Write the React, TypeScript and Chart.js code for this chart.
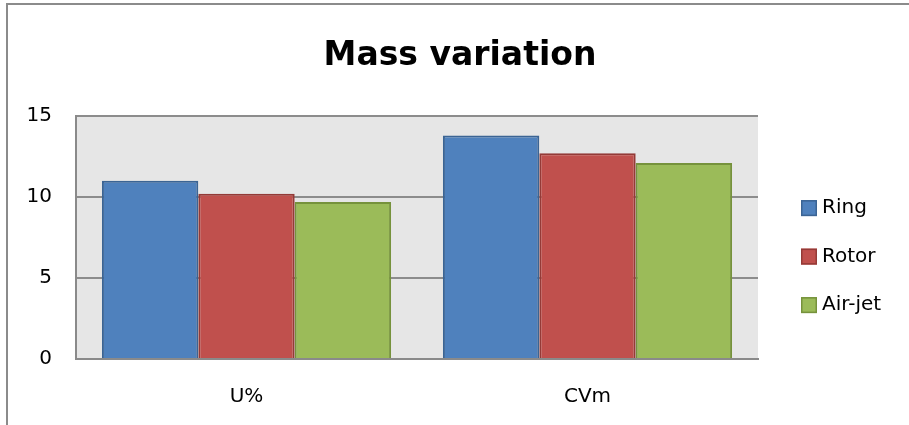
import React, { useEffect, useRef } from 'react';
import { Chart, registerables } from 'chart.js';

Chart.register(...registerables);

const categories = ['U%', 'CVm'];
const seriesNames = ['Ring', 'Rotor', 'Air-jet'];
const ringValues = [11.0, 13.8];
const rotorValues = [10.2, 12.7];
const airJetValues = [9.7, 12.1];
const yTicks = [0, 5, 10, 15];

const FONT = "'DejaVu Sans', sans-serif";
const fills = ['#4F81BD', '#C0504D', '#9BBB59'];
const borders = ['#3B6494', '#943A37', '#76923C'];

const plotBg = {
  id: 'plotBg',
  beforeDraw(chart: any) {
    const { ctx, chartArea: a } = chart;
    ctx.save();
    ctx.fillStyle = '#e6e6e6';
    ctx.fillRect(a.left, a.top, a.right - a.left, a.bottom - a.top);
    ctx.restore();
  },
};

const sideLegend = {
  id: 'sideLegend',
  afterDraw(chart: any) {
    const { ctx, chartArea: a } = chart;
    const x = a.right + 43;
    ctx.save();
    chart.data.datasets.forEach((ds: any, i: number) => {
      const cy = a.top + 92 + i * 48.5;
      ctx.fillStyle = ds.backgroundColor;
      ctx.fillRect(x, cy - 8, 16, 16);
      ctx.strokeStyle = ds.borderColor;
      ctx.lineWidth = 1.5;
      ctx.strokeRect(x + 0.75, cy - 7.25, 14.5, 14.5);
      ctx.fillStyle = '#000';
      ctx.font = `20px ${FONT}`;
      ctx.textBaseline = 'middle';
      ctx.textAlign = 'left';
      ctx.fillText(ds.label, x + 21, cy);
    });
    ctx.restore();
  },
};

export default function App() {
  const ref = useRef<HTMLCanvasElement | null>(null);

  useEffect(() => {
    if (!ref.current) return;
    const values = [ringValues, rotorValues, airJetValues];
    const chart = new Chart(ref.current, {
      type: 'bar',
      data: {
        labels: categories,
        datasets: seriesNames.map((name, i) => ({
          label: name,
          data: values[i],
          backgroundColor: fills[i],
          borderColor: borders[i],
          borderWidth: 2,
          categoryPercentage: 0.848,
          barPercentage: 1,
        })),
      },
      options: {
        responsive: false,
        animation: false,
        devicePixelRatio: 1,
        layout: { padding: { left: 11, right: 0, top: 0, bottom: 0 } },
        plugins: {
          legend: { display: false },
          tooltip: { enabled: false },
          title: {
            display: true,
            text: 'Mass variation',
            color: '#000',
            font: { family: FONT, size: 33, weight: 'bold' },
            padding: { top: 37, bottom: 39.5 },
          },
        },
        scales: {
          x: {
            grid: { display: false, drawTicks: false },
            border: { display: true, color: '#8a8a8a', width: 2 },
            ticks: { color: '#000', font: { family: FONT, size: 20 }, padding: 26 },
            afterFit: (s: any) => { s.height = 66; },
          },
          y: {
            min: 0,
            max: 15,
            afterBuildTicks: (s: any) => { s.ticks = yTicks.map((v) => ({ value: v })); },
            ticks: { color: '#000', font: { family: FONT, size: 20 }, padding: 24 },
            grid: { color: '#8c8c8c', lineWidth: 2, drawTicks: false },
            border: { display: true, color: '#8a8a8a', width: 2 },
            afterFit: (s: any) => { s.width = 65; },
          },
          yPad: {
            type: 'linear',
            position: 'right',
            display: true,
            grid: { display: false, drawTicks: false },
            border: { display: false },
            ticks: { display: false },
            afterFit: (s: any) => { s.width = 151; },
          },
        },
      } as any,
      plugins: [plotBg, sideLegend],
    });
    return () => chart.destroy();
  }, []);

  return (
    <div style={{ position: 'fixed', left: 0, top: 0, width: 909, height: 425, background: '#fff', overflow: 'hidden' }}>
      <div style={{ position: 'absolute', left: 6, top: 3, width: 2000, height: 2000, borderLeft: '2px solid #8b8b8b', borderTop: '2px solid #8b8b8b' }} />
      <canvas ref={ref} width={909} height={425} style={{ position: 'absolute', left: 0, top: 0, width: 909, height: 425 }} />
    </div>
  );
}
